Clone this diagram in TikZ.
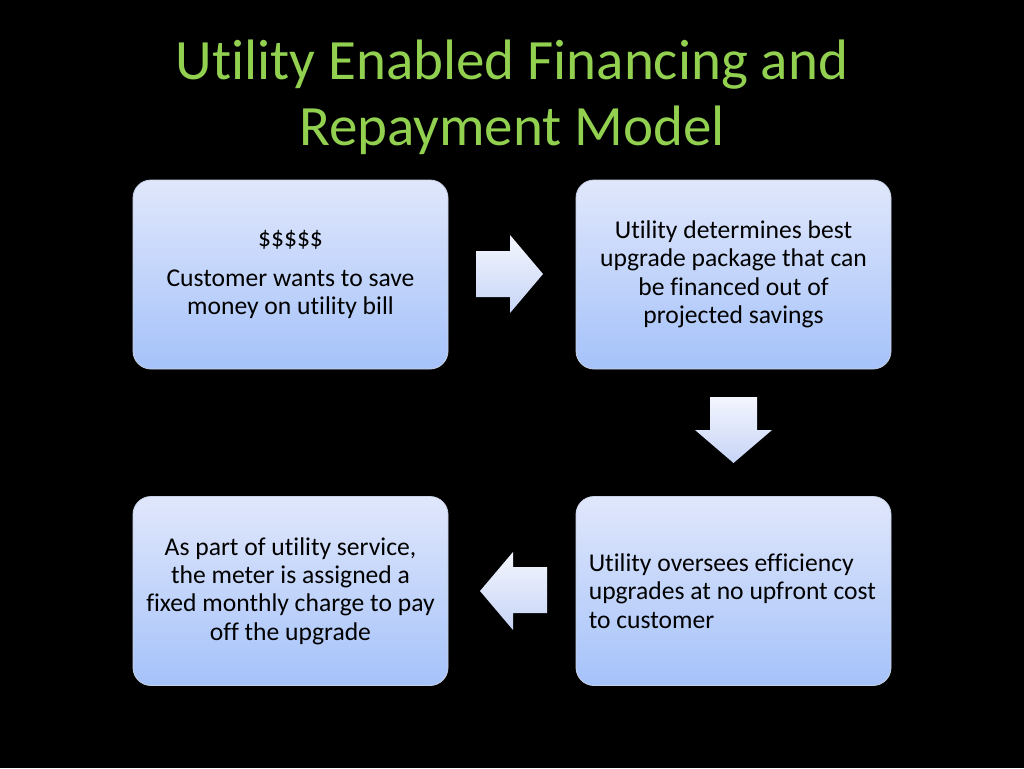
\documentclass[tikz,border=0pt]{standalone}
\usepackage{fontspec}
\setmainfont{Carlito}[Ligatures={NoCommon,NoContextual}]
\definecolor{titlegreen}{HTML}{92D050}
\definecolor{boxtop}{HTML}{E0E7FB}
\definecolor{boxbot}{HTML}{A5C2FA}
\definecolor{boxline}{HTML}{C8D2E6}
\definecolor{arrtop}{HTML}{F4F6FE}
\definecolor{arrbot}{HTML}{C6D4F6}
\begin{document}
\begin{tikzpicture}[x=1pt,y=-1pt,
  stepbox/.style={draw=boxline, line width=0.8pt, rounded corners=18pt,
    top color=boxtop, bottom color=boxbot, minimum width=315pt, minimum height=189pt,
    inner sep=0pt, text=black, font=\fontsize{25.6}{28.4}\selectfont},
  blockarrow/.style={draw=none, top color=arrtop, bottom color=arrbot},
  titletext/.style={text=titlegreen, font=\fontsize{57}{66}\selectfont, align=center, inner sep=0pt}]
\fill[black] (0,0) rectangle (1024,768);
\useasboundingbox (0,0) rectangle (1024,768);
% title
\node[titletext] (title) at (512,97) {Utility Enabled Financing and\\Repayment Model};
% boxes
\node[stepbox, align=center] (b1) at (290.5,274.5) {\$\$\$\$\$\\[11pt]Customer wants to save\\money on utility bill};
\node[stepbox, align=center] (b2) at (733.5,274.5) {Utility determines best\\upgrade package that can\\be financed out of\\projected savings};
\node[stepbox] (b3) at (733.5,591) {};
\node[anchor=west, align=left, inner sep=0pt, font=\fontsize{25.6}{28.4}\selectfont] (t3) at ([xshift=13pt]b3.west) {Utility oversees efficiency\\upgrades at no upfront cost\\to customer};
\node[stepbox, align=center] (b4) at (290.5,591) {As part of utility service,\\the meter is assigned a\\fixed monthly charge to pay\\off the upgrade};
% block arrows
\path[blockarrow] (476,251) -- (510,251) -- (510,235) -- (543,274) -- (510,313) -- (510,297) -- (476,297) -- cycle;
\path[blockarrow] (710,397) -- (757,397) -- (757,430) -- (772,430) -- (733.5,463) -- (695,430) -- (710,430) -- cycle;
\path[blockarrow] (547,567) -- (513,567) -- (513,552) -- (480,591) -- (513,630) -- (513,613) -- (547,613) -- cycle;
\end{tikzpicture}
\end{document}
